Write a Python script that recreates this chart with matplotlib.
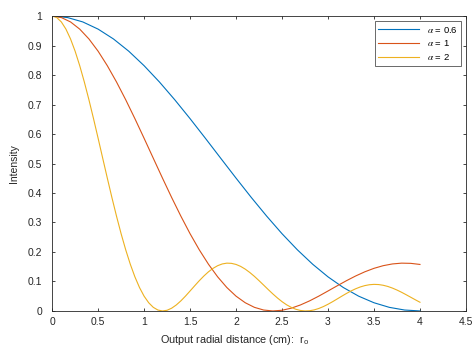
import matplotlib
matplotlib.use("Agg")
import matplotlib.pyplot as plt
import numpy as np

# radial distance samples (cm)
r_blue = np.linspace(0, 4, 25)
r_red = np.linspace(0, 4, 41)
r_yellow = np.linspace(0, 4, 81)

# intensity
i_blue = [1.0, 0.9950, 0.9801, 0.9557, 0.9224, 0.8808, 0.8317, 0.7765, 0.7162,
          0.6521, 0.5855, 0.5178, 0.4504, 0.3845, 0.3214, 0.2619, 0.2074, 0.1584,
          0.1156, 0.0794, 0.0501, 0.0278, 0.0122, 0.0031, 0.0000]
i_red = [1.0, 0.9950, 0.9801, 0.9557, 0.9224, 0.8808, 0.8317, 0.7765, 0.7162,
         0.6521, 0.5855, 0.5178, 0.4504, 0.3845, 0.3214, 0.2619, 0.2074, 0.1584,
         0.1156, 0.0794, 0.0501, 0.0278, 0.0122, 0.0031, 0.0000, 0.0023, 0.0094,
         0.0203, 0.0342, 0.0503, 0.0677, 0.0853, 0.1025, 0.1185, 0.1327, 0.1445,
         0.1535, 0.1594, 0.1621, 0.1614, 0.1577]
i_yellow = [1.0, 0.9950, 0.9801, 0.9557, 0.9224, 0.8808, 0.8317, 0.7765, 0.7162,
            0.6521, 0.5855, 0.5178, 0.4504, 0.3845, 0.3214, 0.2619, 0.2074, 0.1584,
            0.1156, 0.0794, 0.0501, 0.0278, 0.0122, 0.0031, 0.0000, 0.0023, 0.0094,
            0.0203, 0.0342, 0.0503, 0.0677, 0.0853, 0.1025, 0.1185, 0.1327, 0.1445,
            0.1535, 0.1594, 0.1621, 0.1614, 0.1577, 0.1511, 0.1418, 0.1303, 0.1172,
            0.1027, 0.0877, 0.0725, 0.0578, 0.0440, 0.0315, 0.0208, 0.0122, 0.0057,
            0.0017, 0.0000, 0.0007, 0.0036, 0.0084, 0.0149, 0.0227, 0.0314, 0.0407,
            0.0501, 0.0592, 0.0677, 0.0751, 0.0813, 0.0859, 0.0889, 0.0901, 0.0895,
            0.0871, 0.0831, 0.0776, 0.0709, 0.0633, 0.0550, 0.0464, 0.0378, 0.0295]

labels = ['0.6', '1', '2']
colors = ['#0072BD', '#D95319', '#EDB120']

plt.rcParams['font.family'] = ['Liberation Sans', 'DejaVu Sans']
plt.rcParams['mathtext.fontset'] = 'stix'

fig = plt.figure(figsize=(4.74, 3.57), dpi=100)
ax = fig.add_axes([0.110, 0.129, 0.873, 0.826])

for r, inten, lab, c in zip([r_blue, r_red, r_yellow], [i_blue, i_red, i_yellow], labels, colors):
    ax.plot(r, inten, color=c, lw=0.8, label=r'$\alpha$ = ' + lab)

ax.set_xlim(0, 4.5)
ax.set_ylim(0, 1)
ax.set_xticks(np.arange(0, 4.51, 0.5))
ax.set_xticklabels(['0', '0.5', '1', '1.5', '2', '2.5', '3', '3.5', '4', '4.5'])
ax.set_yticks(np.arange(0, 1.01, 0.1))
ax.set_yticklabels(['0', '0.1', '0.2', '0.3', '0.4', '0.5', '0.6', '0.7', '0.8', '0.9', '1'])

gray = '#262626'
for s in ax.spines.values():
    s.set_color(gray)
    s.set_linewidth(0.6)
ax.tick_params(direction='in', length=2.5, width=0.6, colors=gray, labelsize=7.5,
               top=True, right=True)
ax.tick_params(axis='y', pad=7)
ax.tick_params(axis='x', pad=4)

ax.set_xlabel(r'Output radial distance (cm):  r$_\mathregular{o}$', fontsize=7.8,
              color=gray, va='center', ha='center')
ax.xaxis.set_label_coords(0.44, -0.098)
ax.set_ylabel('Intensity', fontsize=7.5, color=gray, va='center', ha='center')
ax.yaxis.set_label_coords(-0.091, 0.5)

leg = ax.legend(loc='upper right', fontsize=6.8, frameon=True, fancybox=False,
                edgecolor=gray, handlelength=4.3, borderaxespad=0.5,
                labelspacing=0.4, borderpad=0.4)
leg.get_frame().set_linewidth(0.6)

fig.savefig('out.png', dpi=100)
